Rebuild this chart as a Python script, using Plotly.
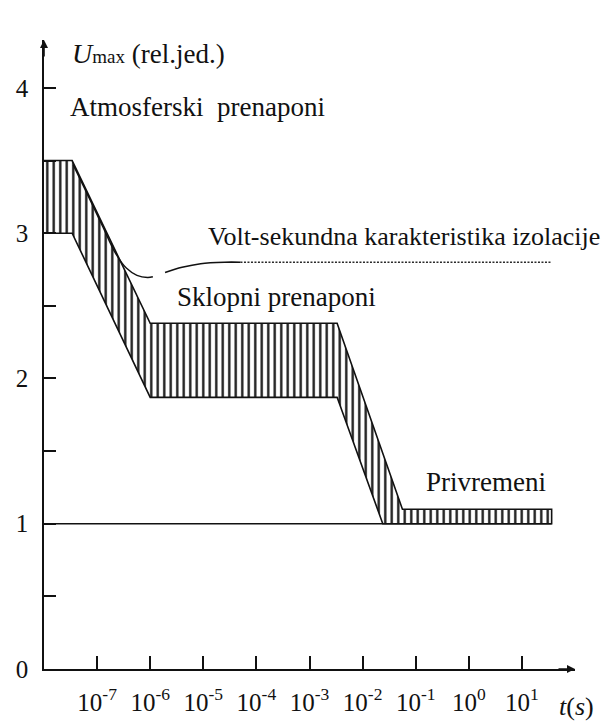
import plotly.graph_objects as go

# ---- data (log10 of time in seconds, voltage in rel. units) ----
band_upper_logt = [-8.0, -7.47, -6.0, -2.48, -1.25, 1.56]
band_upper_u = [3.5, 3.5, 2.38, 2.38, 1.10, 1.10]
band_lower_logt = [-8.0, -7.47, -6.0, -2.48, -1.62, 1.56]
band_lower_u = [3.0, 3.0, 1.87, 1.87, 1.0, 1.0]

vs1_logt = [-7.45, -7.2, -6.9, -6.65, -6.45, -6.25, -6.05, -5.95]
vs1_u = [3.47, 3.28, 3.05, 2.86, 2.76, 2.71, 2.695, 2.70]
vs2_logt = [-5.72, -5.4, -5.05, -4.6, -4.3]
vs2_u = [2.73, 2.765, 2.79, 2.80, 2.80]
vs3_logt = [-4.3, -2.0, 0.0, 1.56]
vs3_u = [2.80, 2.80, 2.80, 2.80]

ref_logt = [-8.0, 1.56]
ref_u = [1.0, 1.0]

x_tick_exp = [-7, -6, -5, -4, -3, -2, -1, 0, 1]
y_tick_vals = [0, 0.5, 1, 1.5, 2, 2.5, 3, 3.5, 4]
y_tick_text = ["0", "", "1", "", "2", "", "3", "", "4"]

FONT = "Liberation Serif"
INK = "#111111"

def t(vals):
    return [10 ** v for v in vals]

fig = go.Figure()

poly_x = band_upper_logt + band_lower_logt[::-1]
poly_y = band_upper_u + band_lower_u[::-1]
fig.add_trace(go.Scatter(
    x=t(poly_x), y=poly_y, mode="lines", fill="toself",
    line=dict(color=INK, width=1.6),
    fillcolor="white",
    fillpattern=dict(shape="|", size=6.5, solidity=0.36,
                     fgcolor="#1a1a1a", bgcolor="white", fgopacity=1),
    hoverinfo="skip", showlegend=False))

fig.add_trace(go.Scatter(x=t(ref_logt), y=ref_u, mode="lines",
                         line=dict(color=INK, width=1.6), showlegend=False))
fig.add_trace(go.Scatter(x=t(vs1_logt), y=vs1_u, mode="lines",
                         line=dict(color=INK, width=1.4, shape="spline"), showlegend=False))
fig.add_trace(go.Scatter(x=t(vs2_logt), y=vs2_u, mode="lines",
                         line=dict(color=INK, width=1.6, shape="spline"), showlegend=False))
fig.add_trace(go.Scatter(x=t(vs3_logt), y=vs3_u, mode="lines",
                         line=dict(color="#2a2a2a", width=1.5, dash="2px,1.5px"), showlegend=False))

fig.update_xaxes(
    type="log", range=[-8, 2], automargin=False,
    showline=True, linecolor=INK, linewidth=1.6,
    showgrid=False, zeroline=False,
    ticks="inside", ticklen=13, tickwidth=1.5, tickcolor=INK,
    tickvals=[10 ** e for e in x_tick_exp],
    ticktext=["10<sup>%d</sup>" % e for e in x_tick_exp],
    tickfont=dict(family=FONT, size=25, color=INK),
    ticklabelstandoff=10,
)
fig.update_yaxes(
    range=[0, 4.33], automargin=False,
    showline=True, linecolor=INK, linewidth=1.6,
    showgrid=False, zeroline=False,
    ticks="inside", ticklen=12, tickwidth=1.5, tickcolor=INK,
    tickvals=y_tick_vals, ticktext=y_tick_text,
    tickfont=dict(family=FONT, size=25, color=INK),
    ticklabelstandoff=9,
)

def label(text, lx, y, size=27):
    fig.add_annotation(x=lx, y=y, xref="x", yref="y", text=text, showarrow=False,
                       xanchor="left", yanchor="middle",
                       font=dict(family=FONT, size=size, color=INK))

label("<span style='font-size:28px'><i>U</i></span><span style='font-size:19px'>max</span> (rel.jed.)", -7.51, 4.24)
label("Atmosferski  prenaponi", -7.55, 3.87)
label("Volt-sekundna karakteristika izolacije", -4.95, 2.98, size=26)
label("Sklopni prenaponi", -5.54, 2.56)
label("Privremeni", -0.84, 1.29)

fig.add_annotation(x=0.966, y=-0.059, xref="paper", yref="paper",
                   text="<i>t</i>(<i>s</i>)", showarrow=False, xanchor="left", yanchor="middle",
                   font=dict(family=FONT, size=26, color=INK))

# axis arrowheads
fig.add_annotation(x=2, y=0, xref="x", yref="y", ax=-18, ay=0, text="",
                   showarrow=True, arrowhead=2, arrowsize=1, arrowwidth=1.6, arrowcolor=INK)
fig.add_annotation(x=-8, y=4.33, xref="x", yref="y", ax=0, ay=18, text="",
                   showarrow=True, arrowhead=2, arrowsize=1, arrowwidth=1.6, arrowcolor=INK)

# page body adds an 8px offset; margins compensate so the plot lands where the reference has it
fig.update_layout(
    width=615, height=724,
    margin=dict(l=36, r=48, t=32, b=63, autoexpand=False),
    paper_bgcolor="white", plot_bgcolor="white",
    showlegend=False,
    font=dict(family=FONT, color=INK),
)

fig.write_html("out.html")
